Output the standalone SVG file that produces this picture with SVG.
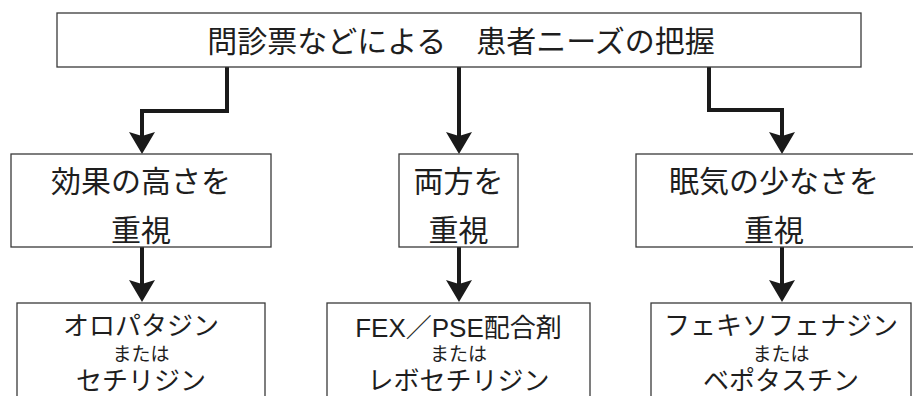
<svg xmlns="http://www.w3.org/2000/svg" width="913" height="396" viewBox="0 0 913 396">
<style>
.box{fill:#fff;stroke:#3a3a3a;stroke-width:1.3}
.t{font-family:"Liberation Sans","Noto Sans CJK JP",sans-serif;fill:#1e1e1e;text-anchor:middle}
.big{font-size:30px}
.med{font-size:26px}
.sm{font-size:19px}
.con{fill:none;stroke:#1a1a1a;stroke-width:4;stroke-linejoin:miter;marker-end:url(#ah)}
</style>
<defs>
<marker id="ah" markerUnits="userSpaceOnUse" viewBox="0 0 22 26" markerWidth="22" markerHeight="26" refX="12" refY="13" orient="auto">
<path d="M0,0 L22,13 L0,26 L4,13 Z" fill="#1a1a1a"/>
</marker>
</defs>
<rect width="913" height="396" fill="#fff"/>
<g id="connectors">
<path class="con" d="M227,67 V111 H142 V144"/>
<path class="con" d="M459,67 V144"/>
<path class="con" d="M709,67 V110 H782 V144"/>
<path class="con" d="M142,247 V292"/>
<path class="con" d="M459,247 V292"/>
<path class="con" d="M782,247 V292"/>
</g>
<g id="top">
<rect class="box" x="57" y="13" width="804" height="54"/>
<text class="t big" x="461" y="52">問診票などによる　患者ニーズの把握</text>
</g>
<g id="effect">
<rect class="box" x="11" y="154" width="260" height="93"/>
<text class="t big" x="141" y="192">効果の高さを</text>
<text class="t big" x="141" y="241">重視</text>
</g>
<g id="both">
<rect class="box" x="399" y="154" width="119" height="93"/>
<text class="t big" x="458.5" y="192">両方を</text>
<text class="t big" x="458.5" y="241">重視</text>
</g>
<g id="drowsy">
<rect class="box" x="636" y="154" width="290" height="93"/>
<text class="t big" x="774" y="192">眠気の少なさを</text>
<text class="t big" x="774" y="241">重視</text>
</g>
<g id="olo">
<rect class="box" x="17" y="303" width="248" height="110"/>
<text class="t med" x="141" y="335">オロパタジン</text>
<text class="t sm" x="141" y="361">または</text>
<text class="t med" x="141" y="390">セチリジン</text>
</g>
<g id="fex">
<rect class="box" x="327" y="303" width="263" height="110"/>
<text class="t med" x="458.5" y="337">FEX／PSE配合剤</text>
<text class="t sm" x="458.5" y="361">または</text>
<text class="t med" x="458.5" y="390">レボセチリジン</text>
</g>
<g id="fexo">
<rect class="box" x="651" y="303" width="260" height="110"/>
<text class="t med" x="781" y="335">フェキソフェナジン</text>
<text class="t sm" x="781" y="361">または</text>
<text class="t med" x="781" y="390">ベポタスチン</text>
</g>
</svg>
